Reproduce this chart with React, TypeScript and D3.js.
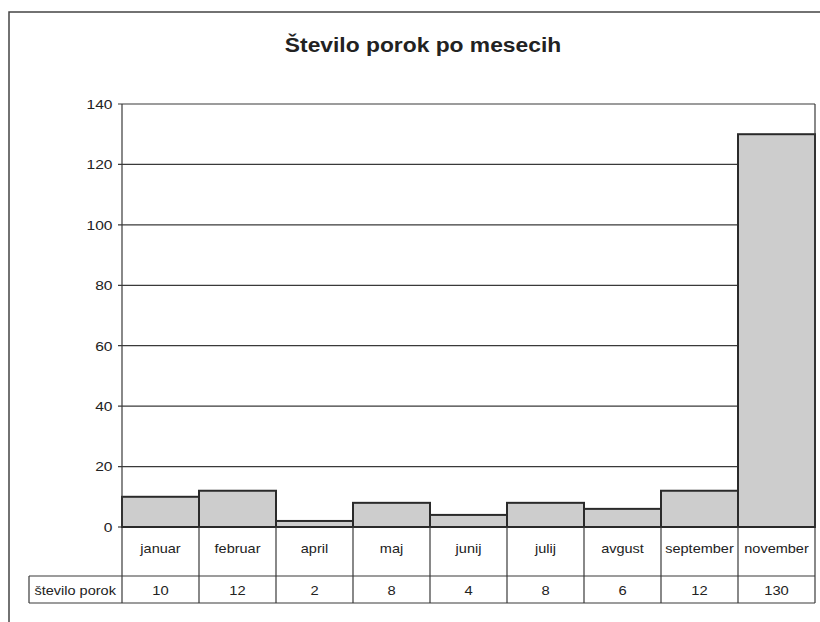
import React from "react";
import * as d3 from "d3";

const title = "Število porok po mesecih";
const categories = ["januar", "februar", "april", "maj", "junij", "julij", "avgust", "september", "november"];
const values = [10, 12, 2, 8, 4, 8, 6, 12, 130];
const seriesName = "število porok";
const yTicks = [0, 20, 40, 60, 80, 100, 120, 140];

const W = 820;
const H = 622;
const plotLeft = 122;
const plotRight = 815;
const plotTop = 104;
const plotBottom = 527;
const catRowBottom = 576;
const valRowBottom = 603;
const legendLeft = 29;
const SX = 1.17;

function T(props: {
  x: number;
  y: number;
  size: number;
  anchor?: "start" | "middle" | "end";
  bold?: boolean;
  children: React.ReactNode;
}) {
  return (
    <text
      transform={`translate(${props.x},${props.y}) scale(${SX},1)`}
      textAnchor={props.anchor || "start"}
      fontSize={props.size}
      fontWeight={props.bold ? "bold" : "normal"}
      fill="#222"
    >
      {props.children}
    </text>
  );
}

export default function App() {
  const x = d3.scaleBand<string>().domain(categories).range([plotLeft, plotRight]).paddingInner(0).paddingOuter(0);
  const y = d3.scaleLinear().domain([0, 140]).range([plotBottom, plotTop]);
  const font = "'Liberation Sans', Arial, sans-serif";
  const ink = "#2a2a2a";
  const grid = "#3a3a3a";

  return (
    <svg
      width={W}
      height={H}
      style={{ position: "absolute", left: 0, top: 0, background: "#fff" }}
      fontFamily={font}
    >
      <rect x={0} y={0} width={W} height={H} fill="#fff" />
      {/* outer chart border */}
      <rect x={9} y={12} width={W + 20} height={H + 20} fill="none" stroke="#444" strokeWidth={1.5} />

      <T x={423} y={52} size={19.5} anchor="middle" bold>
        {title}
      </T>

      {/* gridlines and ticks */}
      {yTicks.map((t) => (
        <g key={t}>
          <line
            x1={plotLeft - 4}
            x2={t > 0 ? plotRight : plotLeft}
            y1={y(t)}
            y2={y(t)}
            stroke={grid}
            strokeWidth={1.2}
          />
          <T x={112.5} y={y(t) + 4.8} size={13.3} anchor="end">
            {t}
          </T>
        </g>
      ))}

      {/* bars */}
      {categories.map((c, i) => (
        <rect
          key={c}
          x={x(c)!}
          y={y(values[i])}
          width={x.bandwidth()}
          height={y(0) - y(values[i])}
          fill="#cdcdcd"
          stroke={ink}
          strokeWidth={2}
        />
      ))}

      {/* plot frame */}
      <line x1={plotLeft} x2={plotLeft} y1={plotTop} y2={valRowBottom} stroke={grid} strokeWidth={1.2} />
      <line x1={plotRight} x2={plotRight} y1={plotTop} y2={valRowBottom} stroke={grid} strokeWidth={1.2} />
      <line x1={plotLeft} x2={plotRight} y1={plotBottom} y2={plotBottom} stroke={ink} strokeWidth={2} />

      {/* data table */}
      <line x1={legendLeft} x2={plotRight} y1={catRowBottom} y2={catRowBottom} stroke={grid} strokeWidth={1.2} />
      <line x1={legendLeft} x2={plotRight} y1={valRowBottom} y2={valRowBottom} stroke={grid} strokeWidth={1.2} />
      <line x1={legendLeft} x2={legendLeft} y1={catRowBottom} y2={valRowBottom} stroke={grid} strokeWidth={1.2} />
      {categories.map((c, i) => (
        <g key={c}>
          {i > 0 && (
            <line x1={x(c)!} x2={x(c)!} y1={plotBottom} y2={valRowBottom} stroke={grid} strokeWidth={1.2} />
          )}
          <T x={x(c)! + x.bandwidth() / 2} y={553} size={12.4} anchor="middle">
            {c}
          </T>
          <T x={x(c)! + x.bandwidth() / 2} y={594.5} size={12.6} anchor="middle">
            {values[i]}
          </T>
        </g>
      ))}
      <T x={34.5} y={594.5} size={12.4}>
        {seriesName}
      </T>
    </svg>
  );
}
